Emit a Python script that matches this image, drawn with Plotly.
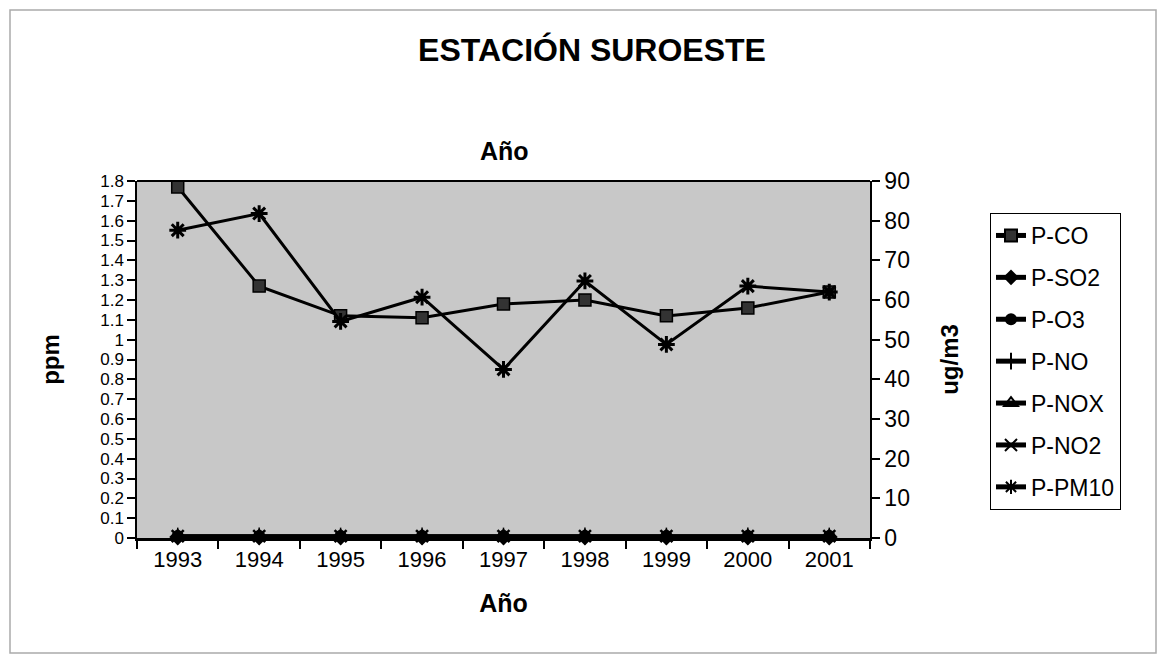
import plotly.graph_objects as go

years = ["1993", "1994", "1995", "1996", "1997", "1998", "1999", "2000", "2001"]
p_co = [1.77, 1.27, 1.12, 1.11, 1.18, 1.20, 1.12, 1.16, 1.24]          # ppm
p_so2 = [0.005, 0.005, 0.005, 0.005, 0.005, 0.005, 0.005, 0.005, 0.005]  # ppm
p_o3 = [0.01, 0.01, 0.01, 0.01, 0.01, 0.01, 0.01, 0.01, 0.01]
p_no = [0.01, 0.01, 0.01, 0.01, 0.01, 0.01, 0.01, 0.01, 0.01]
p_nox = [0.01, 0.01, 0.01, 0.01, 0.01, 0.01, 0.01, 0.01, 0.01]
p_no2 = [0.01, 0.01, 0.01, 0.01, 0.01, 0.01, 0.01, 0.01, 0.01]
p_pm10 = [77.6, 81.8, 54.6, 60.7, 42.5, 64.8, 48.8, 63.5, 62.0]        # ug/m3
left_ticks = [round(i * 0.1, 1) for i in range(19)]
left_labels = ["0" if v == 0 else ("1" if v == 1 else f"{v:g}") for v in left_ticks]
right_ticks = list(range(0, 100, 10))

OFF = 8  # page body margin
W, H = 1166 - 2 * OFF, 663 - 2 * OFF
L, R, T, B = 137 - OFF, 870 - OFF, 181 - OFF, 538 - OFF
FONT = "Arial, Liberation Sans, sans-serif"

def px(x):
    return (x - OFF - L) / (R - L)

def py(y):
    return (B - (y - OFF)) / (B - T)

fig = go.Figure()
series = [
    ("P-CO", p_co, "y", dict(symbol="square", size=12, color="#333", line=dict(color="black", width=1.5))),
    ("P-SO2", p_so2, "y", dict(symbol="diamond", size=13, color="black")),
    ("P-O3", p_o3, "y", dict(symbol="circle", size=12, color="black")),
    ("P-NO", p_no, "y", dict(symbol="line-ns", size=12, color="black", line=dict(color="black", width=1.5))),
    ("P-NOX", p_nox, "y", dict(symbol="triangle-up-open", size=11, color="black", line=dict(color="black", width=1.5))),
    ("P-NO2", p_no2, "y", dict(symbol="x-thin", size=12, color="black", line=dict(color="black", width=2.5))),
    ("P-PM10", p_pm10, "y2", dict(symbol="asterisk", size=14, color="black", line=dict(color="black", width=3))),
]
for name, vals, ax, mk in series:
    fig.add_trace(go.Scatter(
        x=years, y=vals, name=name, yaxis=ax, mode="lines+markers", legendgroup=name,
        line=dict(color="black", width=3),
        marker=mk, cliponaxis=False,
    ))

fig.update_layout(
    width=W, height=H,
    margin=dict(l=L, r=W - R, t=T, b=H - B),
    paper_bgcolor="white",
    plot_bgcolor="#c8c8c8",
    font=dict(family=FONT, color="black"),
    title=dict(text="<b>ESTACIÓN SUROESTE</b>", x=px(592), xref="paper", xanchor="center",
               y=1 - (50 - OFF) / H, yanchor="middle", font=dict(size=32, family=FONT)),
    xaxis=dict(
        type="category", range=[-0.5, 8.5], tickson="boundaries",
        ticks="outside", ticklen=8, tickcolor="black", tickwidth=1.5,
        showline=True, linecolor="black", linewidth=2.5, mirror=False,
        showgrid=False, tickfont=dict(size=22),
        title=dict(text="<b>Año</b>", font=dict(size=25), standoff=24),
    ),
    yaxis=dict(
        range=[0, 1.8], tickvals=left_ticks, ticktext=left_labels,
        ticks="outside", ticklen=8, tickcolor="black", tickwidth=1.5,
        showline=True, linecolor="black", linewidth=1.5, showgrid=False, zeroline=False,
        tickfont=dict(size=17),
        title=dict(text="<b>ppm</b>", font=dict(size=24), standoff=34),
    ),
    yaxis2=dict(
        range=[0, 90], tickvals=right_ticks, overlaying="y", side="right",
        ticks="outside", ticklen=8, tickcolor="black", tickwidth=1.5,
        showline=True, linecolor="black", linewidth=1.5, showgrid=False, zeroline=False,
        tickfont=dict(size=23),
        title=dict(text="<b>ug/m3</b>", font=dict(size=24), standoff=32),
    ),
    legend=dict(
        x=px(990), y=py(213), xanchor="left", yanchor="top",
        bordercolor="black", borderwidth=1, bgcolor="white",
        font=dict(size=23), tracegroupgap=9, itemsizing="constant",
    ),
    showlegend=True,
    annotations=[dict(text="<b>Año</b>", x=px(504), y=py(135), xref="paper", yref="paper",
                      showarrow=False, font=dict(size=25, family=FONT))],
    shapes=[
        dict(type="rect", xref="paper", yref="paper", x0=px(10), x1=px(1156), y0=py(653), y1=py(10),
             line=dict(color="#aaa", width=1.5), layer="below"),
        dict(type="line", xref="paper", yref="paper", x0=0, x1=1, y0=1, y1=1,
             line=dict(color="black", width=2)),
    ],
)

fig.write_html("out.html")
